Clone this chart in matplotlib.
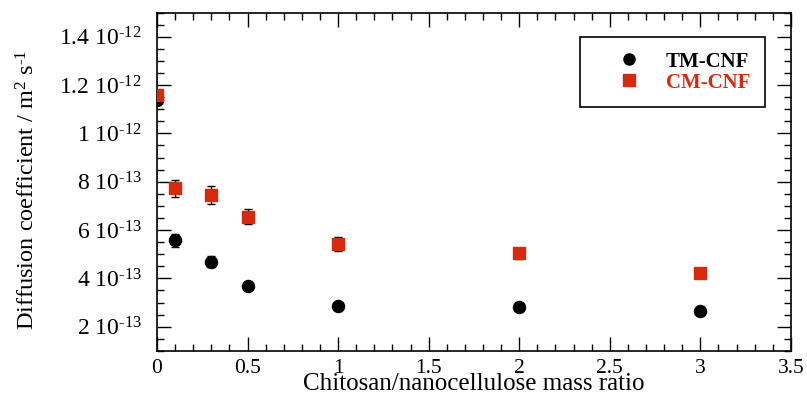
import math
import numpy as np
import matplotlib
matplotlib.use("Agg")
import matplotlib.pyplot as plt
from matplotlib.ticker import MultipleLocator, FixedLocator, FuncFormatter
from matplotlib.lines import Line2D

# Data
ratio = [0, 0.1, 0.3, 0.5, 1, 2, 3]
tm_cnf = [11.40e-13, 5.57e-13, 4.69e-13, 3.68e-13, 2.87e-13, 2.80e-13, 2.65e-13]
tm_err = [0.08e-13, 0.27e-13, 0.22e-13, 0.08e-13, 0.06e-13, 0.06e-13, 0.06e-13]
cm_cnf = [11.61e-13, 7.72e-13, 7.45e-13, 6.55e-13, 5.42e-13, 5.03e-13, 4.23e-13]
cm_err = [0.10e-13, 0.37e-13, 0.36e-13, 0.32e-13, 0.28e-13, 0.22e-13, 0.08e-13]
series_names = ['TM-CNF', 'CM-CNF']
x_ticks = [0, 0.5, 1, 1.5, 2, 2.5, 3, 3.5]
y_ticks = [2e-13, 4e-13, 6e-13, 8e-13, 1e-12, 1.2e-12, 1.4e-12]

plt.rcParams['font.family'] = ['Liberation Serif', 'DejaVu Serif']
plt.rcParams['mathtext.fontset'] = 'custom'
plt.rcParams['mathtext.rm'] = 'Liberation Serif'
plt.rcParams['mathtext.it'] = 'Liberation Serif:italic'
plt.rcParams['mathtext.bf'] = 'Liberation Serif:bold'

red = '#D8290C'

fig = plt.figure(figsize=(8.07, 4.07), dpi=100)
ax = fig.add_axes([0.1945, 0.138, 0.7855, 0.831])

ax.errorbar(ratio, tm_cnf, yerr=tm_err, fmt='o', color='black', ecolor='black',
            markersize=8.7, elinewidth=1, capsize=3, capthick=1, zorder=3)
ax.errorbar(ratio, cm_cnf, yerr=cm_err, fmt='s', color=red, ecolor='black',
            markersize=9, elinewidth=1, capsize=3, capthick=1, zorder=4)

ax.set_xlim(0, 3.5)
ax.set_ylim(1e-13, 1.5e-12)
ax.xaxis.set_major_locator(FixedLocator(x_ticks))
ax.xaxis.set_minor_locator(MultipleLocator(0.1))
ax.yaxis.set_major_locator(FixedLocator(y_ticks))
ax.yaxis.set_minor_locator(MultipleLocator(0.5e-13))

def xfmt(v, pos):
    return f"{v:g}"

def yfmt(v, pos):
    if v <= 0:
        return ''
    e = int(math.floor(math.log10(v) + 1e-9))
    m = v / 10**e
    ms = f"{m:.1f}".rstrip('0').rstrip('.')
    return ms + r" $\mathrm{10^{\text{-}" + str(abs(e)) + r"}}$"

ax.xaxis.set_major_formatter(FuncFormatter(xfmt))
ax.yaxis.set_major_formatter(FuncFormatter(yfmt))

ax.tick_params(which='both', direction='in', top=True, right=True, width=1)
ax.tick_params(which='major', length=10)
ax.tick_params(which='minor', length=5)
ax.tick_params(axis='x', which='major', labelsize=15.5, pad=6)
ax.tick_params(axis='y', which='major', labelsize=17, pad=11)
for s in ax.spines.values():
    s.set_linewidth(1.2)

ax.set_xlabel('Chitosan/nanocellulose mass ratio', fontsize=18, labelpad=-4)
ax.set_ylabel(r'Diffusion coefficient / m$^{2}$ s$^{\text{-}1}$', fontsize=17.5, labelpad=14)
ax.yaxis.label.set_y(0.475)

handles = [Line2D([], [], marker='o', color='black', linestyle='none', markersize=8),
           Line2D([], [], marker='s', color=red, linestyle='none', markersize=8)]
leg = ax.legend(handles, series_names, loc='upper right', bbox_to_anchor=(0.959, 0.9276),
                fancybox=False, edgecolor='black', framealpha=1,
                prop={'weight': 'bold', 'size': 15},
                handlelength=3.3, handletextpad=0.1, borderpad=0.7, labelspacing=0.05,
                borderaxespad=0)
leg.get_frame().set_linewidth(1.2)
for t, c in zip(leg.get_texts(), ['black', red]):
    t.set_color(c)

fig.savefig('out.png', dpi=100)
